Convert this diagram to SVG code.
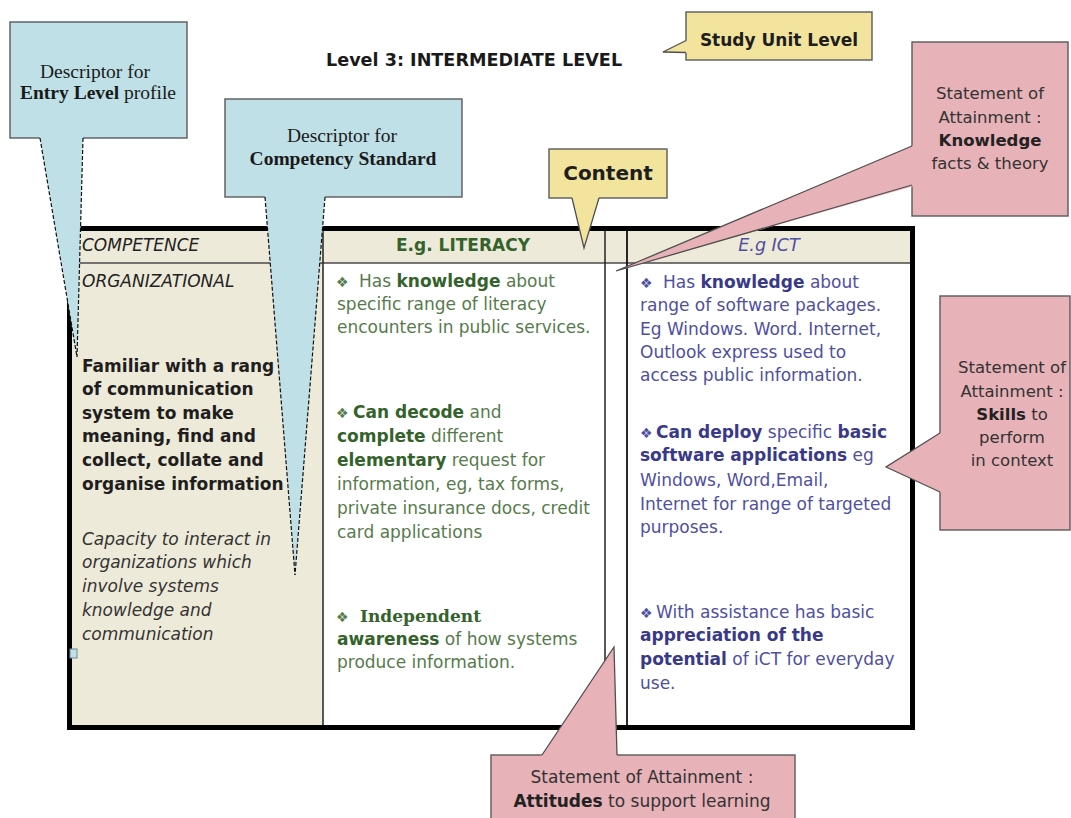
<svg xmlns="http://www.w3.org/2000/svg" width="1071" height="818" viewBox="0 0 1071 818">
  <style>
    .sans{font-family:"DejaVu Sans",Verdana,sans-serif}
    .serif{font-family:"Liberation Serif","Times New Roman",serif}
    .dserif{font-family:"DejaVu Serif",Georgia,serif}
    .b{font-weight:bold}
    .i{font-style:italic}
    .lit{fill:#567b4b}
    .litb{fill:#34622b;font-weight:bold}
    .ict{fill:#4f4fa0}
    .ictb{fill:#393989;font-weight:bold}
    .blue{fill:#bfe0e6}
    .yellow{fill:#f2e49c}
    .pink{fill:#e8b2b9}
    .box{stroke:#5a5a5a;stroke-width:1.4}
    .edgeDash{stroke:#111;stroke-width:1.2;stroke-dasharray:4 2;fill:none}
    .edge{stroke:#505050;stroke-width:1.3;fill:none}
    .cell{font-size:17px}
    .dot{font-size:14px}
  </style>

  <rect x="0" y="0" width="1071" height="818" fill="#ffffff"/>

  <!-- page title -->
  <g id="title">
    <text class="sans b" x="326" y="66" font-size="17.6" fill="#1a1a1a">Level 3: INTERMEDIATE LEVEL</text>
  </g>

  <!-- competence table -->
  <g id="table">
    <rect x="69.5" y="228.5" width="253.5" height="499" fill="#eeead9"/>
    <rect x="323" y="228.5" width="589.5" height="34.5" fill="#eeead9"/>
    <line x1="72" y1="263" x2="910" y2="263" stroke="#4a4a4a" stroke-width="1.6"/>
    <line x1="323" y1="228" x2="323" y2="727" stroke="#222" stroke-width="1.5"/>
    <line x1="605" y1="228" x2="605" y2="727" stroke="#222" stroke-width="1.5"/>
    <line x1="627" y1="228" x2="627" y2="727" stroke="#111" stroke-width="1.8"/>
    <rect x="69.5" y="228.5" width="843" height="499" fill="none" stroke="#000" stroke-width="5"/>
    <rect x="70" y="649" width="7" height="9" fill="#bfe0e6" stroke="#6a8a98" stroke-width="1"/>
  </g>

  <g id="col-competence" class="sans cell">
    <text class="i" x="82" y="251" fill="#222">COMPETENCE</text>
    <text class="i" x="82" y="287" fill="#222">ORGANIZATIONAL</text>
    <g class="b" fill="#1e1e1e">
      <text x="82" y="372">Familiar with a rang</text>
      <text x="82" y="395">of communication</text>
      <text x="82" y="419">system to make</text>
      <text x="82" y="442">meaning, find and</text>
      <text x="82" y="466">collect, collate and</text>
      <text x="82" y="490">organise information</text>
    </g>
    <g class="i" fill="#333">
      <text x="82" y="545">Capacity to interact in</text>
      <text x="82" y="568">organizations which</text>
      <text x="82" y="592">involve systems</text>
      <text x="82" y="616">knowledge and</text>
      <text x="82" y="640">communication</text>
    </g>
  </g>

  <g id="col-literacy" class="sans cell lit">
    <text class="litb" x="463" y="251" text-anchor="middle" fill="#3e6e35">E.g. LITERACY</text>
    <text x="336" y="287"><tspan class="dot">❖</tspan><tspan x="359">Has </tspan><tspan class="litb">knowledge</tspan><tspan> about</tspan></text>
    <text x="337" y="310">specific range of literacy</text>
    <text x="337" y="333">encounters in public services.</text>
    <text x="336" y="418"><tspan class="dot">❖</tspan><tspan x="353" class="litb">Can decode</tspan><tspan> and</tspan></text>
    <text x="337" y="442"><tspan class="litb">complete</tspan><tspan> different</tspan></text>
    <text x="337" y="466"><tspan class="litb">elementary</tspan><tspan> request for</tspan></text>
    <text x="337" y="490">information, eg, tax forms,</text>
    <text x="337" y="514">private insurance docs, credit</text>
    <text x="337" y="538">card applications</text>
    <text x="336" y="622"><tspan class="dot">❖</tspan><tspan x="360" class="dserif litb">Independent</tspan></text>
    <text x="337" y="645"><tspan class="litb">awareness</tspan><tspan> of how systems</tspan></text>
    <text x="337" y="668">produce information.</text>
  </g>

  <g id="col-ict" class="sans cell ict">
    <text class="i" x="769" y="251" text-anchor="middle" font-size="17.5">E.g ICT</text>
    <text x="640" y="288"><tspan class="dot">❖</tspan><tspan x="663">Has </tspan><tspan class="ictb">knowledge</tspan><tspan> about</tspan></text>
    <text x="640" y="311">range of software packages.</text>
    <text x="640" y="335">Eg Windows. Word. Internet,</text>
    <text x="640" y="358">Outlook express used to</text>
    <text x="640" y="381">access public information.</text>
    <text x="640" y="438"><tspan class="dot">❖</tspan><tspan x="656" class="ictb">Can deploy</tspan><tspan> specific </tspan><tspan class="ictb">basic</tspan></text>
    <text x="640" y="461"><tspan class="ictb">software applications</tspan><tspan> eg</tspan></text>
    <text x="640" y="486">Windows, Word,Email,</text>
    <text x="640" y="510">Internet for range of targeted</text>
    <text x="640" y="533">purposes.</text>
    <text x="640" y="618"><tspan class="dot">❖</tspan><tspan x="656">With assistance has basic</tspan></text>
    <text x="640" y="641" class="ictb">appreciation of the</text>
    <text x="640" y="665"><tspan class="ictb">potential</tspan><tspan> of iCT for everyday</tspan></text>
    <text x="640" y="689">use.</text>
  </g>

  <!-- callout boxes -->
  <g id="entry-level">
    <rect class="blue box" x="10" y="22" width="177" height="116"/>
    <text class="serif" x="95" y="78" font-size="19.5" text-anchor="middle" fill="#1a1a1a">Descriptor for</text>
    <text class="serif" x="98" y="99" font-size="19.5" text-anchor="middle" fill="#1a1a1a"><tspan font-weight="bold">Entry Level</tspan> profile</text>
  </g>

  <g id="competency-standard">
    <rect class="blue box" x="225" y="99" width="237" height="98"/>
    <text class="serif" x="342" y="142" font-size="19.5" text-anchor="middle" fill="#1a1a1a">Descriptor for</text>
    <text class="serif b" x="343" y="165" font-size="19.5" text-anchor="middle" fill="#1a1a1a">Competency Standard</text>
  </g>

  <g id="content">
    <rect class="yellow box" x="549" y="149" width="118" height="49"/>
    <text class="sans b" x="608" y="180" font-size="20" text-anchor="middle" fill="#1e1e1e">Content</text>
  </g>

  <g id="study-unit">
    <rect class="yellow box" x="686" y="12" width="186" height="48"/>
    <text class="sans b" x="779" y="46" font-size="17" text-anchor="middle" fill="#1e1e1e">Study Unit Level</text>
  </g>

  <g id="knowledge" class="sans" font-size="16.5" fill="#333" text-anchor="middle">
    <rect class="pink box" x="912" y="42" width="156" height="174"/>
    <text x="990" y="99">Statement of</text>
    <text x="990" y="123">Attainment :</text>
    <text x="990" y="146" class="b" fill="#222">Knowledge</text>
    <text x="990" y="169">facts &amp; theory</text>
  </g>

  <g id="skills" class="sans" font-size="16.5" fill="#333" text-anchor="middle">
    <rect class="pink box" x="940" y="296" width="130" height="234"/>
    <text x="1012" y="373">Statement of</text>
    <text x="1012" y="397">Attainment :</text>
    <text x="1012" y="420"><tspan class="b" fill="#222">Skills</tspan> to</text>
    <text x="1012" y="443">perform</text>
    <text x="1012" y="466">in context</text>
  </g>

  <g id="attitudes" class="sans" font-size="17" fill="#333" text-anchor="middle">
    <rect class="pink box" x="491" y="755" width="304" height="80"/>
    <text x="642" y="783">Statement of Attainment :</text>
    <text x="642" y="807"><tspan class="b" fill="#222">Attitudes</tspan> to support learning</text>
  </g>

  <!-- pointer tails from each callout box -->
  <g id="connectors">
    <polygon class="blue" points="39.6,136 83.1,136 77,357"/>
    <line class="edgeDash" x1="40" y1="138" x2="77" y2="357"/>
    <line class="edgeDash" x1="83" y1="138" x2="77" y2="357"/>

    <polygon class="blue" points="264.8,195 325.2,195 295,575"/>
    <line class="edgeDash" x1="265" y1="197" x2="295" y2="575"/>
    <line class="edgeDash" x1="325" y1="197" x2="295" y2="575"/>

    <polygon class="yellow" points="571.6,196 599.4,196 584,248"/>
    <polyline class="edge" points="572,198 584,248 599,198"/>

    <polygon class="yellow" points="688,40 663,52 688,53"/>
    <polyline class="edge" points="686,40.5 663,52 686,52.5"/>

    <polygon class="pink" points="914,145 616,271 914,186"/>
    <polyline class="edge" points="912,146 616,271 912,185"/>

    <polygon class="pink" points="942,432 886,467 942,493"/>
    <polyline class="edge" points="940,433 886,467 940,492"/>

    <polygon class="pink" points="540.7,757 614,647 617.1,757"/>
    <polyline class="edge" points="542,755 614,647 617,755"/>
  </g>
</svg>
